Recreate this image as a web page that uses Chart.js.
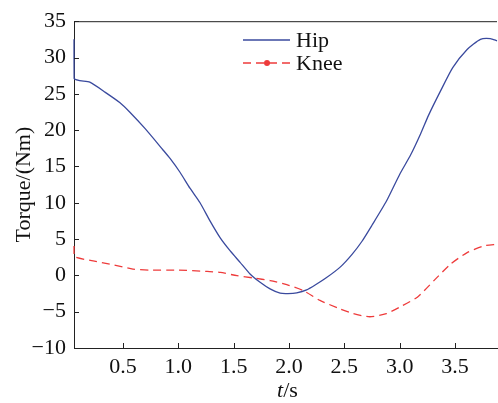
<!DOCTYPE html>
<html>
<head>
<meta charset="utf-8">
<script src="https://cdn.jsdelivr.net/npm/chart.js@4"></script>
<style>
  html, body { margin: 0; padding: 0; background: #fff; }
  #wrap { width: 498px; height: 403px; }
</style>
</head>
<body>
<div id="wrap"><canvas id="torqueChart" width="498" height="403"></canvas></div>
<script>
// time (s) and torque (Nm) samples
const hipT = [0.057, 0.058, 0.20, 0.34, 0.47, 0.56, 0.70, 0.86, 0.925, 1.015, 1.105, 1.196, 1.286, 1.377, 1.467, 1.558, 1.648, 1.739, 1.829, 1.92, 1.99, 2.07, 2.16, 2.24, 2.34, 2.46, 2.57, 2.66, 2.75, 2.88, 3.0, 3.10, 3.19, 3.26, 3.37, 3.48, 3.61, 3.73, 3.82, 3.88];
const hipTorque = [32.5, 27.1, 26.6, 25.2, 23.8, 22.5, 20.2, 17.3, 16.1, 14.2, 12.0, 10.0, 7.5, 5.2, 3.4, 1.8, 0.2, -0.95, -1.86, -2.45, -2.5, -2.4, -2.0, -1.3, -0.3, 1.1, 2.9, 4.7, 6.9, 10.2, 13.9, 16.6, 19.5, 22.0, 25.4, 28.6, 31.1, 32.5, 32.6, 32.3];

const kneeT = [0.057, 0.058, 0.23, 0.38, 0.59, 0.74, 0.99, 1.26, 1.38, 1.53, 1.68, 1.83, 1.98, 2.13, 2.28, 2.46, 2.58, 2.73, 2.88, 3.00, 3.16, 3.31, 3.46, 3.61, 3.76, 3.88];
const kneeTorque = [4.05, 2.6, 2.0, 1.55, 0.87, 0.73, 0.73, 0.55, 0.4, -0.04, -0.36, -0.72, -1.27, -2.1, -3.45, -4.6, -5.27, -5.7, -5.27, -4.37, -3.0, -0.72, 1.55, 3.14, 4.05, 4.3];

const xTicks = [0.5, 1.0, 1.5, 2.0, 2.5, 3.0, 3.5];
const yTicks = [-10, -5, 0, 5, 10, 15, 20, 25, 30, 35];
const seriesNames = ['Hip', 'Knee'];

const SERIF = "'Liberation Serif', 'DejaVu Serif', serif";
const FONT_SIZE = 22;
const HIP_COLOR = '#3a4a9e';
const KNEE_COLOR = '#ee3b3b';

function toPoints(xs, ys) {
  return xs.map((x, i) => ({ x: x, y: ys[i] }));
}

// inward tick marks, top frame line, legend and x title
const decorations = {
  id: 'decorations',
  afterDraw(chart) {
    const ctx = chart.ctx;
    const area = chart.chartArea;
    const xs = chart.scales.x;
    const ys = chart.scales.y;
    ctx.save();
    ctx.strokeStyle = '#222';
    ctx.lineWidth = 1;
    ctx.beginPath();
    ctx.moveTo(area.left, area.top + 0.5);
    ctx.lineTo(area.right, area.top + 0.5);
    xTicks.forEach(v => {
      const px = Math.round(xs.getPixelForValue(v)) + 0.5;
      ctx.moveTo(px, area.bottom);
      ctx.lineTo(px, area.bottom - 5);
    });
    yTicks.forEach(v => {
      const py = Math.round(ys.getPixelForValue(v)) + 0.5;
      ctx.moveTo(area.left, py);
      ctx.lineTo(area.left + 5, py);
    });
    ctx.stroke();

    // legend
    ctx.font = FONT_SIZE + 'px ' + SERIF;
    ctx.textBaseline = 'middle';
    ctx.fillStyle = '#111';
    ctx.lineWidth = 1.3;
    ctx.strokeStyle = HIP_COLOR;
    ctx.beginPath();
    ctx.moveTo(243, 40);
    ctx.lineTo(290, 40);
    ctx.stroke();
    ctx.fillText(seriesNames[0], 296, 41);

    ctx.strokeStyle = KNEE_COLOR;
    ctx.setLineDash([8, 5]);
    ctx.beginPath();
    ctx.moveTo(243, 63);
    ctx.lineTo(290, 63);
    ctx.stroke();
    ctx.setLineDash([]);
    ctx.fillStyle = KNEE_COLOR;
    ctx.beginPath();
    ctx.arc(267, 63, 3, 0, Math.PI * 2);
    ctx.fill();
    ctx.fillStyle = '#111';
    ctx.fillText(seriesNames[1], 296, 64);

    // x axis title: italic t, upright /s
    const cx = (area.left + area.right) / 2;
    ctx.textBaseline = 'alphabetic';
    ctx.font = 'italic ' + FONT_SIZE + 'px ' + SERIF;
    const tw = ctx.measureText('t').width;
    ctx.font = FONT_SIZE + 'px ' + SERIF;
    const sw = ctx.measureText('/s').width;
    const x0 = cx - (tw + sw) / 2 + 2;
    ctx.font = 'italic ' + FONT_SIZE + 'px ' + SERIF;
    ctx.fillText('t', x0, 397);
    ctx.font = FONT_SIZE + 'px ' + SERIF;
    ctx.fillText('/s', x0 + tw, 397);
    ctx.restore();
  }
};

function drawChart() {
  new Chart(document.getElementById('torqueChart'), {
    type: 'line',
    data: {
      datasets: [
        {
          label: seriesNames[0],
          data: toPoints(hipT, hipTorque),
          borderColor: HIP_COLOR,
          borderWidth: 1.3,
          pointRadius: 0,
          tension: 0.2,
          clip: 3,
          fill: false
        },
        {
          label: seriesNames[1],
          data: toPoints(kneeT, kneeTorque),
          borderColor: KNEE_COLOR,
          borderWidth: 1.3,
          borderDash: [8, 5],
          pointRadius: 0,
          tension: 0.2,
          clip: 3,
          fill: false
        }
      ]
    },
    options: {
      responsive: false,
      animation: false,
      layout: { padding: { top: 18, right: 1, left: 11, bottom: 0 } },
      plugins: {
        legend: { display: false },
        tooltip: { enabled: false }
      },
      scales: {
        x: {
          type: 'linear',
          min: 0.057,
          max: 3.88,
          afterBuildTicks: s => { s.ticks = xTicks.map(v => ({ value: v })); },
          afterFit: s => { s.height = 55; },
          grid: { display: false, drawTicks: false },
          border: { display: true, color: '#222', width: 1 },
          ticks: {
            color: '#111',
            padding: 6,
            font: { family: SERIF, size: FONT_SIZE },
            callback: v => v.toFixed(1)
          }
        },
        y: {
          min: -10,
          max: 35,
          afterBuildTicks: s => { s.ticks = yTicks.map(v => ({ value: v })); },
          afterFit: s => { s.width = 63; },
          grid: { display: false, drawTicks: false },
          border: { display: true, color: '#222', width: 1 },
          title: {
            display: true,
            text: 'Torque/(Nm)',
            color: '#111',
            padding: 0,
            font: { family: SERIF, size: FONT_SIZE }
          },
          ticks: {
            color: '#111',
            padding: 8,
            font: { family: SERIF, size: FONT_SIZE },
            callback: v => v < 0 ? '\u2212' + Math.abs(v) : String(v)
          }
        }
      }
    },
    plugins: [decorations]
  });
}

Promise.all([
  document.fonts.load("22px 'Liberation Serif'"),
  document.fonts.load("italic 22px 'Liberation Serif'")
]).then(drawChart, drawChart);
</script>
</body>
</html>
